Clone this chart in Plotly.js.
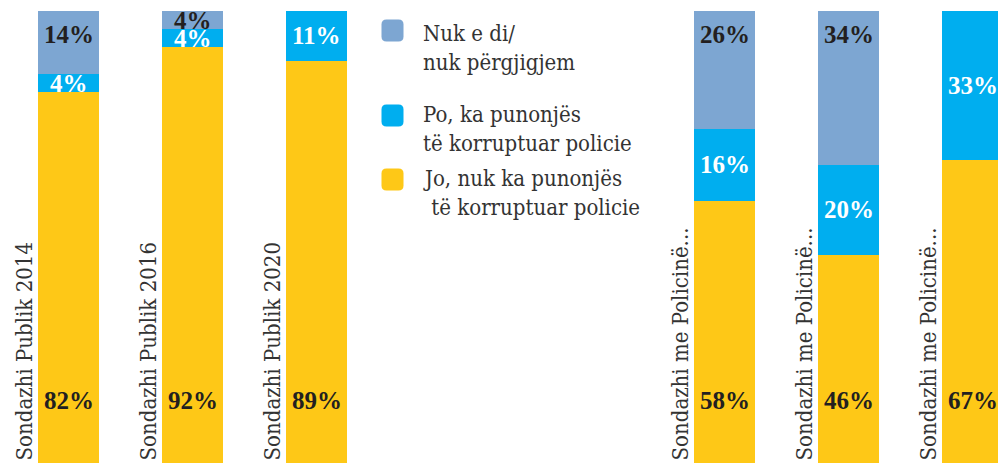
<!DOCTYPE html>
<html>
<head>
<meta charset="utf-8">
<script src="https://cdn.plot.ly/plotly-3.0.1.min.js"></script>
<style>
  html, body { margin: 0; padding: 0; background: #fff; }
  #chart { width: 998px; height: 464px; }
</style>
</head>
<body>
<div id="chart"></div>
<script>
// survey keys and the labels shown next to each bar
const keys = ["p2014", "p2016", "p2020", "pol1", "pol2", "pol3"];
const labels = ["Sondazhi Publik 2014", "Sondazhi Publik 2016", "Sondazhi Publik 2020",
                "Sondazhi me Policinë...", "Sondazhi me Policinë...", "Sondazhi me Policinë..."];
// shares in %, bottom to top of each stack
const jo  = [82, 92, 89, 58, 46, 67];
const po  = [4, 4, 11, 16, 20, 33];
const nuk = [14, 4, 0, 26, 34, 0];
const seriesNames = ["Jo, nuk ka punonjës<br>\u00a0të korruptuar policie",
                     "Po, ka punonjës<br>të korruptuar policie",
                     "Nuk e di/<br>nuk përgjigjem"];

const C = { yellow: "#FEC817", blue: "#00AEEF", grey: "#7DA6D2",
            ink: "#231F20", label: "#333333", white: "#FFFFFF" };
const SERIF = "Liberation Serif, serif";
const LABEL_FONT = "DejaVu Serif Condensed, DejaVu Serif, serif";
const W = 998, H = 464;
const px = x => x / W, py = y => 1 - y / H;

const groups = [[0, 1, 2], [3, 4, 5]];
const axes = ["x", "x2"];
const series = [[jo, C.yellow], [po, C.blue], [nuk, C.grey]];

const data = [];
series.forEach(([vals, color]) => {
  groups.forEach((idx, g) => {
    data.push({
      type: "bar", xaxis: axes[g], yaxis: "y",
      x: idx.map(i => keys[i]), y: idx.map(i => vals[i]),
      marker: { color: color, line: { width: 0 } },
      hoverinfo: "skip",
    });
  });
});

const ann = [];
keys.forEach((k, i) => {
  const xr = i < 3 ? "x" : "x2";
  ann.push({ x: k, xref: xr, y: 0, yref: "y", text: labels[i], showarrow: false,
             textangle: -90, xanchor: "right", yanchor: "bottom", xshift: -30,
             font: { family: LABEL_FONT, size: 22, color: C.label } });
  const vf = (c) => ({ family: SERIF, size: 25, color: c, weight: 700 });
  ann.push({ x: k, xref: xr, y: 0, yref: "y", yshift: 63, text: jo[i] + "%",
             showarrow: false, font: vf(C.ink) });
  if (po[i] > 0)
    ann.push({ x: k, xref: xr, y: jo[i] + po[i] / 2, yref: "y", text: po[i] + "%",
               showarrow: false, font: vf(C.white) });
  if (nuk[i] > 0)
    ann.push({ x: k, xref: xr, y: 100 - Math.min(nuk[i] / 2, 5.1), yref: "y",
               text: nuk[i] + "%", showarrow: false, font: vf(C.ink) });
});

// hand-drawn legend: rounded swatches + two-line captions
const legendTop = [19, 100, 164];
const legendOrder = [2, 1, 0];
const swatch = "M-11,-6 Q-11,-11 -6,-11 L6,-11 Q11,-11 11,-6 L11,6 Q11,11 6,11 L-6,11 Q-11,11 -11,6 Z";
const shapes = [];
legendOrder.forEach((s, j) => {
  shapes.push({ type: "path", xref: "paper", yref: "paper", xsizemode: "pixel", ysizemode: "pixel",
                xanchor: px(392.5), yanchor: py([30.5, 115.5, 179.5][j]), path: swatch,
                fillcolor: series[s][1], line: { width: 0 } });
  ann.push({ x: px(421), xref: "paper", y: py(legendTop[j]), yref: "paper",
             xanchor: "left", yanchor: "top", align: "left", showarrow: false,
             text: seriesNames[s], font: { family: LABEL_FONT, size: 22, color: C.label } });
});

const layout = {
  width: W, height: H, margin: { l: 0, r: 0, t: 0, b: 0 },
  paper_bgcolor: "#fff", plot_bgcolor: "#fff",
  barmode: "stack", bargap: 0.508, showlegend: false,
  xaxis:  { domain: [px(6.5), px(378.5)], range: [-0.5, 2.5], type: "category",
            showticklabels: false, showgrid: false, zeroline: false, showline: false, fixedrange: true },
  xaxis2: { domain: [px(662.5), 1], range: [-0.5, 2.2056], type: "category", anchor: "y",
            showticklabels: false, showgrid: false, zeroline: false, showline: false, fixedrange: true },
  yaxis:  { domain: [1 - 463 / H, 1 - 11 / H], range: [0, 100],
            showticklabels: false, showgrid: false, zeroline: false, showline: false, fixedrange: true },
  annotations: ann, shapes: shapes,
};

Plotly.newPlot("chart", data, layout, { displayModeBar: false, staticPlot: true });
</script>
</body>
</html>
